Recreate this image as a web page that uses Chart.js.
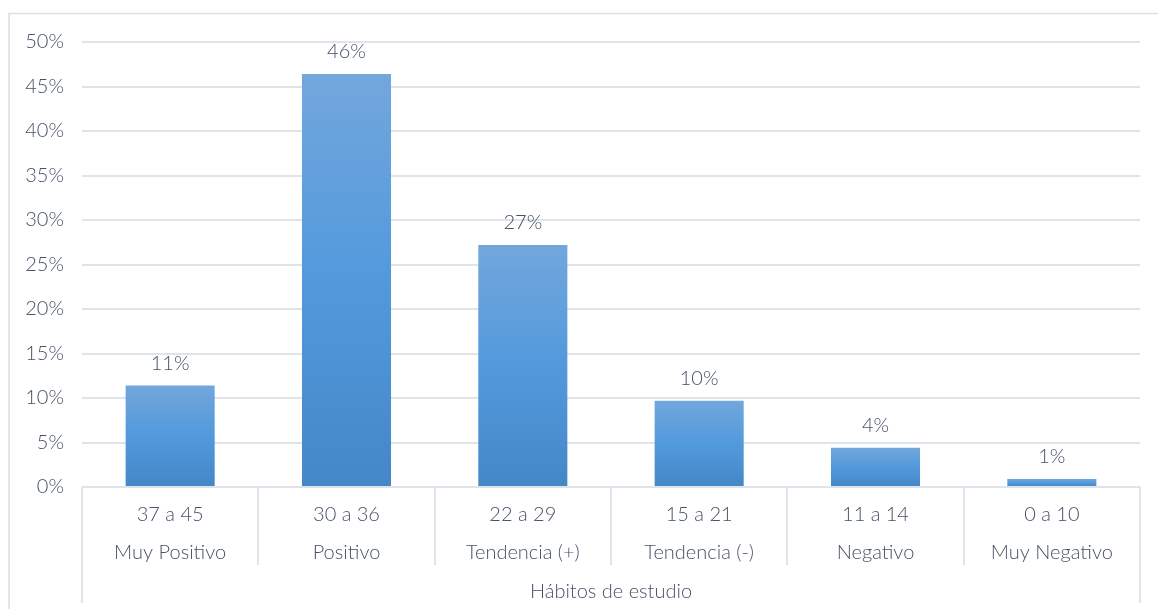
<!DOCTYPE html>
<html lang="es">
<head>
<meta charset="utf-8">
<title>Hábitos de estudio</title>
<script src="https://cdn.jsdelivr.net/npm/chart.js@4.4.1/dist/chart.umd.min.js"></script>
<style>
  html, body { margin: 0; padding: 0; background: #ffffff; }
  #wrap { position: relative; width: 1158px; height: 609px; }
  canvas { display: block; }
</style>
</head>
<body>
<div id="wrap"><canvas id="chart" width="1158" height="609"></canvas></div>
<script>
// Score ranges and their qualitative level
const rangos = ['37 a 45', '30 a 36', '22 a 29', '15 a 21', '11 a 14', '0 a 10'];
const niveles = ['Muy Positivo', 'Positivo', 'Tendencia (+)', 'Tendencia (-)', 'Negativo', 'Muy Negativo'];
// Share of students in each range (%)
const porcentajes = [11.4, 46.4, 27.2, 9.7, 4.4, 0.9];
const tituloGrupo = 'Hábitos de estudio';

const FONT = "'Lato', 'Open Sans', sans-serif";
const TEXT = '#465266';
const GRID = '#dfe3ea';

// Light frame around the whole figure
const marco = {
  id: 'marco',
  beforeDraw(chart) {
    const ctx = chart.ctx;
    ctx.save();
    ctx.strokeStyle = '#dadfe6';
    ctx.lineWidth = 1.5;
    ctx.strokeRect(9, 13.5, 1170, 620);
    ctx.restore();
  }
};

// Category dividers below the axis: short ones between categories, long ones at both ends
const divisores = {
  id: 'divisores',
  afterDraw(chart) {
    const { ctx, chartArea } = chart;
    const n = rangos.length;
    const w = (chartArea.right - chartArea.left) / n;
    ctx.save();
    ctx.strokeStyle = GRID;
    ctx.lineWidth = 2;
    for (let i = 0; i <= n; i++) {
      const x = Math.round(chartArea.left + i * w);
      const end = (i === 0 || i === n) ? chartArea.bottom + 116 : chartArea.bottom + 78;
      ctx.beginPath();
      ctx.moveTo(x, chartArea.bottom);
      ctx.lineTo(x, end);
      ctx.stroke();
    }
    ctx.restore();
  }
};

// Value labels above each bar
const etiquetas = {
  id: 'etiquetas',
  afterDatasetsDraw(chart) {
    const ctx = chart.ctx;
    const meta = chart.getDatasetMeta(0);
    ctx.save();
    ctx.font = '300 20px ' + FONT;
    ctx.fillStyle = TEXT;
    ctx.textAlign = 'center';
    ctx.textBaseline = 'middle';
    meta.data.forEach((bar, i) => {
      ctx.fillText(Math.round(porcentajes[i]) + '%', bar.x, bar.y - 22);
    });
    ctx.restore();
  }
};

// Vertical gradient per bar, from its top down to the zero line
function degradado(context) {
  const chart = context.chart;
  const { ctx, scales, chartArea } = chart;
  const fallback = '#5599dd';
  if (!chartArea || !scales.y || context.dataIndex === undefined) return fallback;
  const top = scales.y.getPixelForValue(porcentajes[context.dataIndex]);
  const base = scales.y.getPixelForValue(0);
  if (!isFinite(top) || !isFinite(base) || top === base) return fallback;
  const g = ctx.createLinearGradient(0, top, 0, base);
  g.addColorStop(0, '#72a7dc');
  g.addColorStop(0.5, '#5299dc');
  g.addColorStop(1, '#4587c7');
  return g;
}

new Chart(document.getElementById('chart'), {
  type: 'bar',
  data: {
    labels: rangos.map((r, i) => [r, niveles[i]]),
    datasets: [{
      data: porcentajes,
      backgroundColor: degradado,
      borderWidth: 0,
      categoryPercentage: 1,
      barPercentage: 0.505
    }]
  },
  options: {
    responsive: false,
    animation: false,
    events: [],
    layout: { padding: { left: 0, right: 18, top: 42, bottom: 0 } },
    plugins: {
      legend: { display: false },
      tooltip: { enabled: false }
    },
    scales: {
      x: {
        grid: { display: false },
        border: { display: false },
        ticks: {
          color: TEXT,
          font: { family: FONT, size: 20, weight: '300', lineHeight: 1.9 },
          padding: 1,
          maxRotation: 0,
          autoSkip: false
        },
        title: {
          display: true,
          text: tituloGrupo,
          color: TEXT,
          font: { family: FONT, size: 20, weight: '300', lineHeight: 1.2 },
          padding: { top: 0, bottom: 5 }
        },
        afterFit(scale) { scale.height = 122; }
      },
      y: {
        min: 0,
        max: 50,
        ticks: {
          stepSize: 5,
          color: TEXT,
          font: { family: FONT, size: 20, weight: '300' },
          padding: 18,
          callback: v => v + '%'
        },
        grid: { color: GRID, lineWidth: 2, drawTicks: false },
        border: { display: false },
        afterFit(scale) { scale.width = 82; }
      }
    }
  },
  plugins: [marco, divisores, etiquetas]
});
</script>
</body>
</html>
